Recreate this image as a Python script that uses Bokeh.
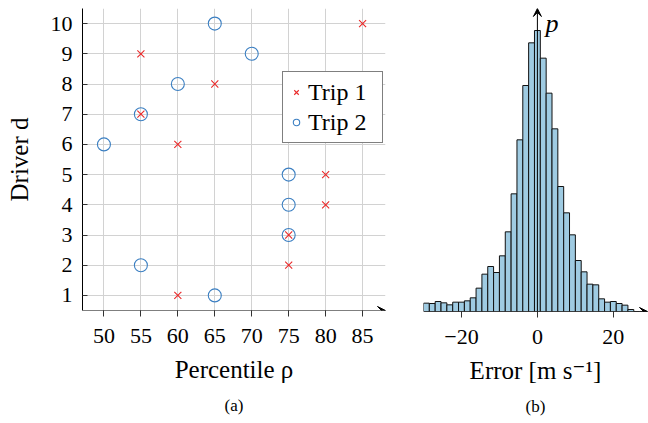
import numpy as np
from bokeh.plotting import figure
from bokeh.models import (Range1d, Arrow, VeeHead, Legend, LegendItem, Label,
                          Title, FixedTicker, ColumnDataSource)
from bokeh.layouts import row
from bokeh.embed import file_html
from bokeh.resources import INLINE

# ---------------- data ----------------
drivers = [1, 2, 3, 4, 5, 6, 7, 8, 9, 10]
trip1_percentile = [60, 75, 75, 80, 80, 60, 55, 65, 55, 85]
trip2_percentile = [65, 55, 75, 75, 75, 50, 55, 60, 70, 65]
percentile_ticks = [50, 55, 60, 65, 70, 75, 80, 85]

error_lo = -30
error_hi = 30
error_counts = [25, 24, 30, 26, 20, 28, 28, 32, 41, 70, 112, 135, 117, 167, 239,
                353, 515, 678, 806, 843, 760, 655, 548, 375, 296, 230, 153, 119,
                82, 80, 38, 28, 30, 24, 19, 6, 0, 0, 0]
error_ticks = [-20, 0, 20]

FONT = "'Liberation Serif', 'DejaVu Serif', serif"
RED = "#ea2a2a"
BLUE = "#3b7fc2"
GRID = "#d2d2d2"
TICK_FS = "22px"
LABEL_FS = "25px"
CAP_FS = "17px"

# ---------------- panel (a) ----------------
xa0, xa1 = 47.1, 88.1
ya0, ya1 = 0.5, 10.5
p1 = figure(frame_width=303, frame_height=302, output_backend="svg",
            toolbar_location=None,
            x_range=Range1d(xa0, xa1), y_range=Range1d(ya0, ya1),
            min_border_left=82, min_border_right=25, min_border_top=8,
            min_border_bottom=105)
p1.outline_line_color = None
p1.background_fill_color = "white"
p1.border_fill_color = "white"

p1.xaxis.ticker = FixedTicker(ticks=percentile_ticks)
p1.yaxis.ticker = FixedTicker(ticks=drivers)
p1.xgrid.grid_line_color = GRID
p1.ygrid.grid_line_color = GRID
p1.xgrid.grid_line_width = 1
p1.ygrid.grid_line_width = 1

for ax in (p1.xaxis, p1.yaxis):
    ax.major_label_text_font = FONT
    ax.major_label_text_font_size = TICK_FS
    ax.major_label_text_color = "black"
    ax.axis_label_text_font = FONT
    ax.axis_label_text_font_size = LABEL_FS
    ax.axis_label_text_font_style = "normal"
    ax.axis_label_text_color = "black"
    ax.minor_tick_line_color = None
    ax.major_tick_line_color = "#333333"

p1.xaxis.axis_line_color = None
p1.xaxis.major_tick_in = 0
p1.xaxis.major_tick_out = 6
p1.xaxis.major_label_standoff = 12
p1.xaxis.axis_label = "Percentile ρ"
p1.xaxis.axis_label_standoff = 10

p1.yaxis.axis_line_color = "black"
p1.yaxis.major_tick_in = 5
p1.yaxis.major_tick_out = 0
p1.yaxis.major_label_standoff = 10
p1.yaxis.axis_label = "Driver d"
p1.yaxis.axis_label_standoff = 15

p1.add_layout(Arrow(x_start=xa0, y_start=ya0, x_end=xa1, y_end=ya0,
                    line_color="black", line_width=1,
                    end=VeeHead(size=8, line_color="black", fill_color="black",
                                line_width=1)))

src1 = ColumnDataSource(dict(x=trip1_percentile, y=drivers))
src2 = ColumnDataSource(dict(x=trip2_percentile, y=drivers))
r2 = p1.scatter("x", "y", source=src2, marker="circle", size=13,
                fill_color=None, line_color=BLUE, line_width=1.1)
r1 = p1.scatter("x", "y", source=src1, marker="x", size=10,
                line_color=RED, line_width=1.1)

legend = Legend(items=[LegendItem(label="Trip 1", renderers=[r1]),
                       LegendItem(label="Trip 2", renderers=[r2])],
                location=(200, 167), orientation="vertical",
                border_line_color="black", border_line_width=1,
                background_fill_color="white", background_fill_alpha=1,
                label_text_font=FONT, label_text_font_size="24px",
                label_text_color="black",
                glyph_width=16, glyph_height=30, label_height=30,
                label_width=69, label_standoff=4, padding=5, spacing=0,
                margin=0)
p1.add_layout(legend)

p1.add_layout(Title(text="(a)", align="center", text_font=FONT,
                    text_font_size=CAP_FS, text_font_style="normal",
                    text_color="black", standoff=16), "below")

# ---------------- panel (b) ----------------
n_bins = len(error_counts)
edges = np.linspace(error_lo, error_hi, n_bins + 1)
xb0, xb1 = -30.0, 29.0
yb0, yb1 = 0.0, 909.0
p2 = figure(frame_width=224, frame_height=303, output_backend="svg",
            toolbar_location=None,
            x_range=Range1d(xb0, xb1), y_range=Range1d(yb0, yb1),
            min_border_left=13, min_border_right=1, min_border_top=3,
            min_border_bottom=105)
p2.outline_line_color = None
p2.background_fill_color = "white"
p2.border_fill_color = "white"
p2.grid.grid_line_color = None
p2.yaxis.visible = False

hsrc = ColumnDataSource(dict(left=edges[:-1], right=edges[1:],
                             top=error_counts, bottom=[0] * n_bins))
p2.quad(left="left", right="right", top="top", bottom="bottom", source=hsrc,
        fill_color="#9fcbe2", line_color="#111111", line_width=1)

p2.xaxis.ticker = FixedTicker(ticks=error_ticks)
p2.xaxis.major_label_overrides = {-20: "−20", 0: "0", 20: "20"}
p2.xaxis.axis_line_color = None
p2.xaxis.minor_tick_line_color = None
p2.xaxis.major_tick_line_color = "#333333"
p2.xaxis.major_tick_in = 0
p2.xaxis.major_tick_out = 6
p2.xaxis.major_label_standoff = 12
p2.xaxis.major_label_text_font = FONT
p2.xaxis.major_label_text_font_size = TICK_FS
p2.xaxis.major_label_text_color = "black"
p2.xaxis.axis_label = "Error [m s⁻¹]"
p2.xaxis.axis_label_text_font = FONT
p2.xaxis.axis_label_text_font_size = LABEL_FS
p2.xaxis.axis_label_text_font_style = "normal"
p2.xaxis.axis_label_text_color = "black"
p2.xaxis.axis_label_standoff = 10

p2.add_layout(Arrow(x_start=xb0, y_start=yb0, x_end=xb1, y_end=yb0,
                    line_color="black", line_width=1,
                    end=VeeHead(size=8, line_color="black", fill_color="black",
                                line_width=1)))
p2.add_layout(Arrow(x_start=0, y_start=yb0, x_end=0, y_end=yb1,
                    line_color="black", line_width=1,
                    end=VeeHead(size=8, line_color="black", fill_color="black",
                                line_width=1)))
p2.add_layout(Label(x=0, y=yb1, text="p", x_offset=8, y_offset=0,
                    text_font=FONT, text_font_size="26px",
                    text_font_style="italic", text_baseline="top",
                    text_color="black"))

p2.add_layout(Title(text="(b)", align="center", text_font=FONT,
                    text_font_size=CAP_FS, text_font_style="normal",
                    text_color="black", standoff=16), "below")

layout = row(p1, p2)
open("out.html", "w").write(file_html(layout, INLINE))
